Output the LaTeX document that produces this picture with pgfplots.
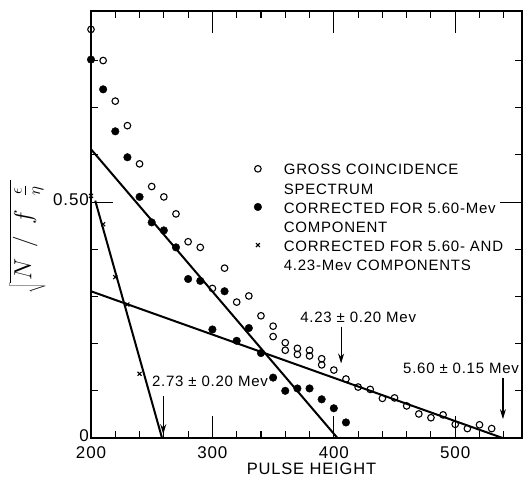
\documentclass[border=0pt]{standalone}
\usepackage{fontspec}
\setmainfont{Liberation Sans}[LetterSpace=5]
\usepackage{pgfplots}
\pgfplotsset{compat=1.18}
\usetikzlibrary{arrows.meta}

\pgfplotstableread{
x y
200 0.866
210 0.800
220 0.714
230 0.662
240 0.581
250 0.533
260 0.511
270 0.475
280 0.416
290 0.404
300 0.317
310 0.360
320 0.288
330 0.301
340 0.259
350 0.237
350 0.215
360 0.202
360 0.186
370 0.190
370 0.177
380 0.186
380 0.174
390 0.168
390 0.155
400 0.144
410 0.125
420 0.108
430 0.103
440 0.084
450 0.085
460 0.068
470 0.051
480 0.043
490 0.049
500 0.029
510 0.020
520 0.028
530 0.020
}\gross

\pgfplotstableread{
x y
200 0.802
210 0.739
220 0.650
230 0.595
240 0.511
250 0.457
260 0.440
270 0.404
280 0.337
290 0.333
300 0.230
310 0.311
320 0.206
330 0.233
340 0.180
350 0.128
360 0.100
370 0.105
380 0.105
390 0.082
400 0.063
410 0.033
}\corrA

\pgfplotstableread{
x y
200 0.513
210 0.453
220 0.341
230 0.283
240 0.136
}\corrB

\begin{document}
\begin{tikzpicture}[font=\fontsize{15bp}{18bp}\selectfont]
\begin{axis}[
  scale only axis, width=431bp, height=427bp,
  xmin=200, xmax=555, ymin=0, ymax=0.905,
  clip=false,
  axis line style={line width=1.1pt},
  tick align=inside, tick pos=both,
  xtick={200,300,400,500}, xticklabels={200,300,400,500},
  minor xtick={220,240,260,280,320,340,360,380,420,440,460,480,520,540},
  ytick={0,0.5}, yticklabels={0,0.50},
  minor ytick={0.1,0.2,0.3,0.4,0.6,0.7,0.8},
  major tick length=22bp, minor tick length=7bp,
  every tick/.style={line width=1.1pt, black},
  ticklabel style={font=\fontsize{17bp}{20bp}\selectfont},
  xticklabel style={inner sep=1bp, yshift=-7bp},
  yticklabel style={inner sep=2bp, yshift=2bp},
  xlabel={PULSE HEIGHT},
  xlabel style={inner sep=1bp, yshift=-3bp, xshift=5bp, font=\fontsize{16.5bp}{20bp}\selectfont},
  ylabel={\fontsize{25bp}{29bp}\selectfont$\sqrt{\mkern2mu N\mkern8mu/\mkern8mu f\mkern10mu\frac{\epsilon}{\eta}\mkern4mu}$},
  ylabel style={xshift=-12bp, yshift=2bp},
  legend style={draw=none, fill=none, at={(axis cs:334,0.587)}, anchor=north west,
    row sep=23bp, column sep=0bp, font=\fontsize{15bp}{19.5bp}\selectfont, inner sep=0pt,
    nodes={inner sep=0pt}},
  legend cell align=left,
  legend image code/.code={\draw[#1] plot coordinates {(0bp,0bp)}; \path[draw=none,fill=none] (-4bp,0bp) rectangle (26bp,1bp);},
]
\addplot[only marks, mark=o, mark size=3.3bp, mark options={line width=1.1pt, black}] table {\gross};
\addlegendentry{\begin{tabular}[t]{@{}l@{}}GROSS COINCIDENCE\\SPECTRUM\end{tabular}}
\addplot[only marks, mark=*, mark size=3.8bp, mark options={black, fill=black}] table {\corrA};
\addlegendentry{\begin{tabular}[t]{@{}l@{}}CORRECTED FOR 5.60-Mev\\COMPONENT\end{tabular}}
\addplot[only marks, mark=x, mark size=2.8bp, mark options={line width=1.1pt, black}] table {\corrB};
\addlegendentry{\begin{tabular}[t]{@{}l@{}}CORRECTED FOR 5.60- AND\\4.23-Mev COMPONENTS\end{tabular}}

\addplot[forget plot, black, line width=2bp] coordinates {(203.5,0.503) (258.5,0)};
\addplot[forget plot, black, line width=2bp] coordinates {(200,0.612) (403,0)};
\addplot[forget plot, black, line width=2bp] coordinates {(200,0.311) (539,0)};

\draw[line width=1.2pt, -{Stealth[length=10bp,width=6bp]}] (axis cs:259.5,0.088) -- (axis cs:259.5,0.008);
\draw[line width=1.2pt, -{Stealth[length=10bp,width=6bp]}] (axis cs:406,0.236) -- (axis cs:406,0.158);
\draw[line width=1.2pt, -{Stealth[length=10bp,width=6bp]}] (axis cs:539.3,0.127) -- (axis cs:539.3,0.040);
\node[anchor=west, inner sep=0pt] at (axis cs:250.2,0.121) {2.73 ± 0.20 Mev};
\node[anchor=west, inner sep=0pt] at (axis cs:372.3,0.256) {4.23 ± 0.20 Mev};
\node[anchor=west, inner sep=0pt] at (axis cs:457,0.148) {5.60 ± 0.15 Mev};
\end{axis}
\pgfresetboundingbox
\path[use as bounding box] (-91bp,-41bp) rectangle (435bp,438bp);
\end{tikzpicture}
\end{document}
